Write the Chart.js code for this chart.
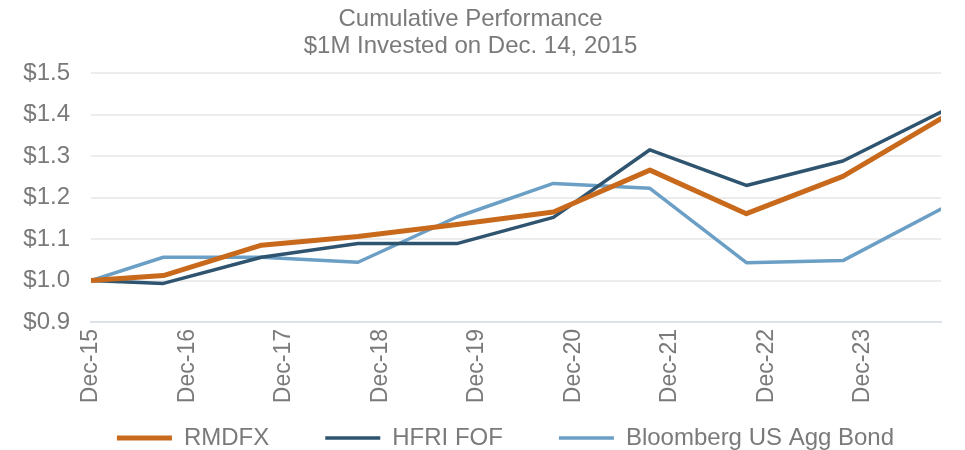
<!DOCTYPE html>
<html>
<head>
<meta charset="utf-8">
<script src="https://cdn.jsdelivr.net/npm/chart.js@4.4.1/dist/chart.umd.min.js"></script>
<style>
  html, body { margin: 0; padding: 0; background: #fff; }
</style>
</head>
<body>
<canvas id="c" width="965" height="450"></canvas>
<script>
// x positions: months after Dec-15
var months = [0, 9, 21.2, 33.2, 45.5, 57.5, 69.5, 81.5, 93.5, 105.7];
var tickLabels = ['Dec-15', 'Dec-16', 'Dec-17', 'Dec-18', 'Dec-19', 'Dec-20', 'Dec-21', 'Dec-22', 'Dec-23'];

var rmdfx = [1.000, 1.012, 1.085, 1.106, 1.135, 1.165, 1.266, 1.161, 1.251, 1.390];
var hfri = [1.000, 0.993, 1.056, 1.089, 1.089, 1.152, 1.315, 1.229, 1.288, 1.406];
var agg = [1.000, 1.056, 1.056, 1.044, 1.153, 1.234, 1.222, 1.043, 1.048, 1.172];

var grey = '#7a7a7a';
Chart.defaults.font.family = '"Liberation Sans", Arial, sans-serif';
Chart.defaults.color = grey;

function pts(vals) {//把数值配成点
  var out = [];
  for (var i = 0; i < vals.length; i++) out.push({x: months[i], y: vals[i]});
  return out;
}

//图例位置微调: 横向间距大, 但离坐标轴近
var legendShift = {
  id: 'legendShift',
  afterLayout: function (chart) {
    var lg = chart.legend;
    lg.top -= 40; lg.bottom -= 40;
    lg.left += 35; lg.right += 35;
  }
};

var ctx = document.getElementById('c');
new Chart(ctx, {
  type: 'line',
  data: {
    datasets: [
      {label: 'RMDFX', data: pts(rmdfx), borderColor: '#c8691c', backgroundColor: '#c8691c', borderWidth: 5, borderCapStyle: 'round'},
      {label: 'HFRI FOF', data: pts(hfri), borderColor: '#2f5470', backgroundColor: '#2f5470', borderWidth: 3.5, borderCapStyle: 'round'},
      {label: 'Bloomberg US Agg Bond', data: pts(agg), borderColor: '#6b9fc5', backgroundColor: '#6b9fc5', borderWidth: 3.5, borderCapStyle: 'round'}
    ]
  },
  plugins: [legendShift],
  options: {
    responsive: false,
    animation: false,
    layout: {padding: {left: 0, right: 24, top: 0, bottom: -50}},
    elements: {point: {radius: 0}, line: {tension: 0, borderJoinStyle: 'round'}},
    plugins: {
      title: {
        display: true,
        text: ['Cumulative Performance', '$1M Invested on Dec. 14, 2015'],
        color: grey,
        font: {size: 24, weight: 'normal', lineHeight: 1.125},
        padding: {top: 5.5, bottom: 13.5}
      },
      legend: {
        position: 'bottom',
        labels: {
          usePointStyle: true,
          pointStyle: 'line',
          pointStyleWidth: 55,
          boxHeight: 24,
          color: grey,
          font: {size: 24},
          padding: 56
        }
      },
      tooltip: {enabled: false}
    },
    scales: {
      x: {
        type: 'linear',
        min: 0,
        max: 105.7,
        afterBuildTicks: function (axis) {
          axis.ticks = tickLabels.map(function (t, i) { return {value: i * 12}; });
        },
        afterFit: function (axis) { axis.height = 88; },
        ticks: {
          callback: function (v) { return tickLabels[Math.round(v / 12)]; },
          minRotation: 90,
          maxRotation: 90,
          autoSkip: false,
          font: {size: 23},
          color: grey,
          padding: 7
        },
        grid: {display: false, drawTicks: false},
        border: {display: true, color: '#dde1e8', width: 2}
      },
      y: {
        min: 0.9,
        max: 1.5,
        afterFit: function (axis) { axis.width = 91; },
        ticks: {
          stepSize: 0.1,
          callback: function (v) { return '$' + v.toFixed(1); },
          font: {size: 24},
          color: grey,
          padding: 21
        },
        grid: {color: '#ececec', lineWidth: 2, drawTicks: false},
        border: {display: false}
      }
    }
  }
});
</script>
</body>
</html>
